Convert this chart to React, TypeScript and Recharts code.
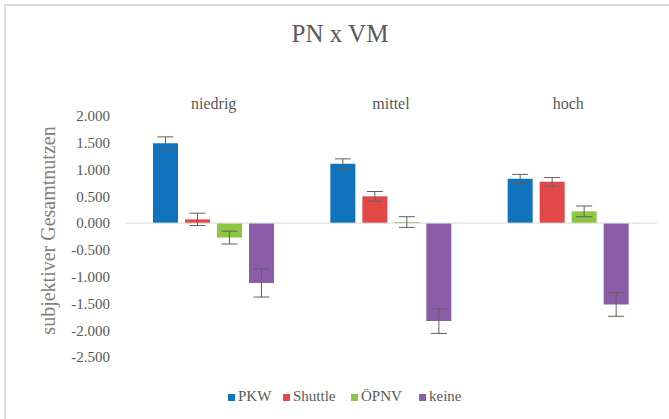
import React from 'react';
import { BarChart, Bar, XAxis, YAxis, ErrorBar, ReferenceLine } from 'recharts';

const categories = ['niedrig', 'mittel', 'hoch'];
const pkw = [1.49, 1.11, 0.83];
const pkwErr = [0.12, 0.09, 0.08];
const shuttle = [0.07, 0.5, 0.77];
const shuttleErr = [0.115, 0.09, 0.08];
const oepnv = [-0.27, 0.02, 0.22];
const oepnvErr = [0.12, 0.1, 0.1];
const keine = [-1.12, -1.83, -1.52];
const keineErr = [0.26, 0.23, 0.22];
const yTicks = [2, 1.5, 1, 0.5, 0, -0.5, -1, -1.5, -2, -2.5];

const seriesNames = ['PKW', 'Shuttle', 'ÖPNV', 'keine'];
const colors = ['#1173BE', '#E24848', '#8DC641', '#8B5DA6'];

const data = categories.map((c, i) => ({
  cat: c,
  pkw: pkw[i],
  pkwErr: pkwErr[i],
  shuttle: shuttle[i],
  shuttleErr: shuttleErr[i],
  oepnv: oepnv[i],
  oepnvErr: oepnvErr[i],
  keine: keine[i],
  keineErr: keineErr[i],
}));

const FONT = '"Liberation Serif", "Times New Roman", serif';

export default function App() {
  const keys = ['pkw', 'shuttle', 'oepnv', 'keine'];
  return (
    <div style={{ position: 'absolute', left: 0, top: 0, width: 669, height: 419, background: '#fff', fontFamily: FONT }}>
      <div style={{ position: 'absolute', left: 4, top: 4, width: 665, height: 415, borderTop: '2px solid #dcdcdc', borderLeft: '2px solid #dcdcdc', boxSizing: 'border-box' }} />
      <div style={{ position: 'absolute', left: 0, top: 21, width: 680, textAlign: 'center', fontSize: 25, lineHeight: '25px', color: '#595959' }}>
        PN x VM
      </div>
      <div style={{ position: 'absolute', left: 0, top: 0 }}>
        <BarChart
          width={669}
          height={419}
          data={data}
          margin={{ top: 86, right: 12, left: 30, bottom: 62 }}
          barCategoryGap={28}
          barGap={7}
          style={{ fontFamily: FONT }}
        >
          <XAxis
            dataKey="cat"
            orientation="top"
            axisLine={false}
            tickLine={false}
            tickSize={0}
            tickMargin={7}
            height={30}
            tick={{ fill: '#595959', fontSize: 16, fontFamily: FONT, style: { fontFamily: FONT } }}
          />
          <YAxis
            domain={[-2.5, 2]}
            ticks={yTicks}
            interval={0}
            axisLine={false}
            tickLine={false}
            tickSize={0}
            tickMargin={15}
            width={95}
            tickFormatter={(v: number) => v.toFixed(3)}
            tick={{ fill: '#595959', fontSize: 15, fontFamily: FONT, style: { fontFamily: FONT } }}
            label={{
              content: (props: any) => {
                const vb = props.viewBox || { x: 30, y: 116, width: 95, height: 241 };
                const cx = vb.x + 18;
                const cy = vb.y + vb.height / 2 - 6;
                return (
                  <text
                    x={cx}
                    y={cy}
                    transform={`rotate(-90 ${cx} ${cy})`}
                    textAnchor="middle"
                    dominantBaseline="central"
                    fill="#7f7f7f"
                    fontSize={20}
                    fontFamily={FONT}
                  >
                    subjektiver Gesamtnutzen
                  </text>
                );
              },
            }}
          />
          <ReferenceLine y={0} stroke="#d9d9d9" strokeWidth={1} />
          {keys.map((k, i) => (
            <Bar key={k} dataKey={k} name={seriesNames[i]} fill={colors[i]} isAnimationActive={false}>
              <ErrorBar dataKey={k + 'Err'} width={8} stroke="#606060" strokeWidth={1} direction="y" />
            </Bar>
          ))}
        </BarChart>
      </div>
      <div style={{ position: 'absolute', left: 228, top: 389, display: 'flex', fontSize: 15, lineHeight: '15px', color: '#595959', fontFamily: FONT }}>
        {seriesNames.map((n, i) => (
          <div key={n} style={{ width: [55, 68, 68, 50][i], whiteSpace: 'nowrap' }}>
            <span style={{ display: 'inline-block', width: 7, height: 7, background: colors[i], marginRight: 3, verticalAlign: 'baseline' }} />
            {n}
          </div>
        ))}
      </div>
    </div>
  );
}
